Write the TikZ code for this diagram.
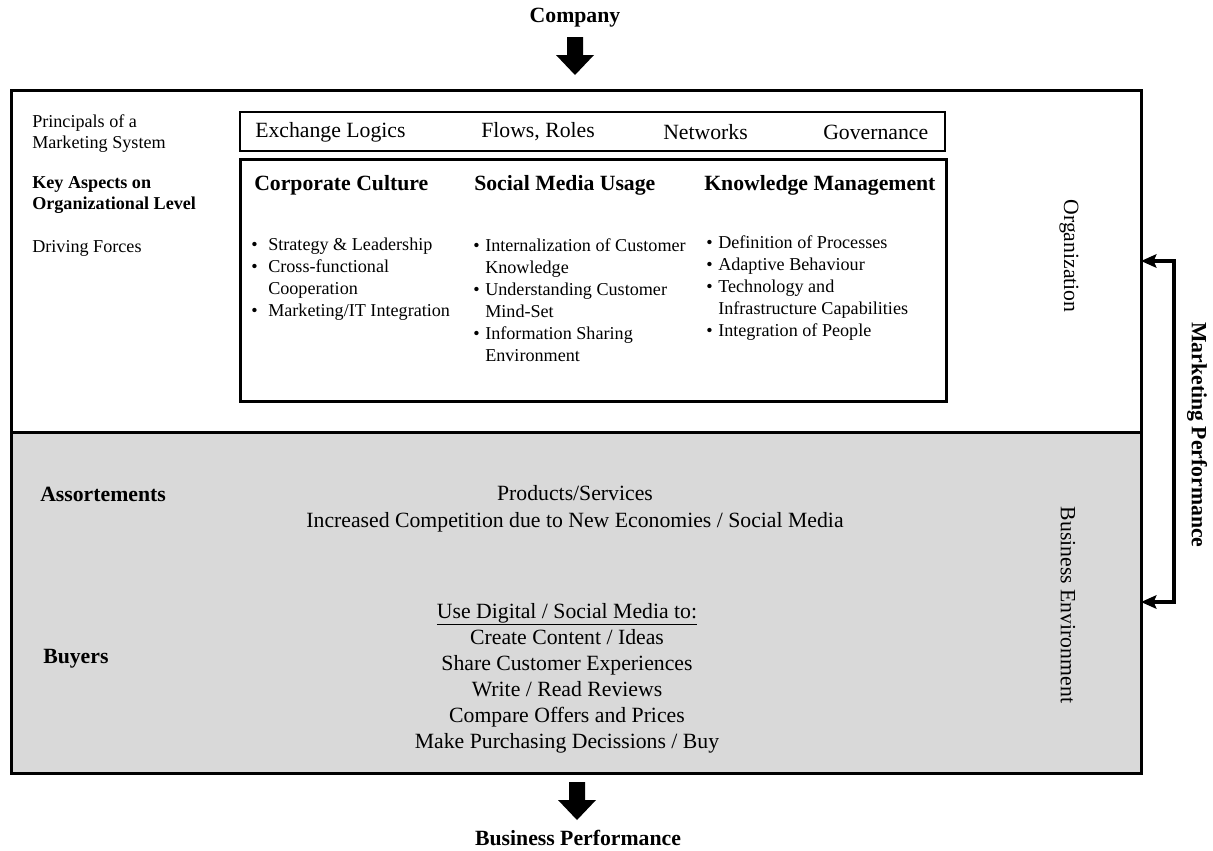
\documentclass[tikz,border=0pt]{standalone}
\usepackage{fontspec}
\setmainfont{Liberation Serif}
\usetikzlibrary{arrows.meta}
\definecolor{envgray}{HTML}{D9D9D9}
% bullet with a fixed-width box, and the matching hanging indent
\newcommand\lbul[1][9pt]{\makebox[#1][l]{\textbullet}}
\newcommand\lind[1][9pt]{\hspace*{#1}}
\begin{document}
\begin{tikzpicture}[x=0.75pt,y=-0.75pt,
  big/.style={font=\fontsize{16.3}{19.5}\selectfont, inner sep=0pt},
  bigb/.style={font=\fontsize{16.3}{19.5}\selectfont\bfseries, inner sep=0pt},
  small/.style={font=\fontsize{13.6}{15.75}\selectfont, inner sep=0pt, align=left},
  smallb/.style={font=\fontsize{13.6}{15.75}\selectfont\bfseries, inner sep=0pt, align=left},
  bullets/.style={font=\fontsize{13.6}{16.5}\selectfont, inner sep=0pt, align=left, anchor=north west},
  frame/.style={line width=2.25pt},
  thinframe/.style={line width=1.3pt},
  blockarrow/.pic={\fill (-8,0) -- (8,0) -- (8,18) -- (19,18) -- (0,38) -- (-19,18) -- (-8,18) -- cycle;},
  perfarrow/.style={line width=3pt, line join=miter,
    {Stealth[length=11.5pt,width=10pt,inset=2pt]}-{Stealth[length=11.5pt,width=10pt,inset=2pt]}}
]
\useasboundingbox (0,0) rectangle (1213,850);

% outer frame: organization (top) and business environment (shaded, bottom)
\coordinate (outerNW) at (11,90);
\coordinate (outerSE) at (1141,773);
\coordinate (splitW) at (11,432);
\coordinate (splitE) at (1141,432);
\fill[envgray] (splitW) rectangle (outerSE);
\draw[frame] (outerNW) rectangle (outerSE);
\draw[frame] (splitW) -- (splitE);

% company input and business performance output
\node[bigb] (company) at (575,18) {Company};
\pic at (575,37) {blockarrow};
\pic at (577,782) {blockarrow};
\node[bigb] (bizperf) at (578,838) {Business Performance};

% left-hand row labels
\node[small, anchor=west] (principals) at (32,134) {Principals of a\\Marketing System};
\node[smallb, anchor=west] (keyaspects) at (32,195) {Key Aspects on\\Organizational Level};
\node[small, anchor=west] (driving) at (32,248) {Driving Forces};

% principles of a marketing system
\draw[thinframe] (240,112) rectangle (945,151);
\node[big, anchor=west] (exchange) at (255,132) {Exchange Logics};
\node[big, anchor=west] (flows) at (481,132) {Flows, Roles};
\node[big, anchor=west] (networks) at (663,132) {Networks};
\node[big, anchor=west] (governance) at (823,132) {Governance};

% key aspects and their driving forces
\draw[frame] (240,159) rectangle (946,401);
\node[bigb, anchor=west] (culture) at (254,185) {Corporate Culture};
\node[bigb, anchor=west] (social) at (474,185) {Social Media Usage};
\node[bigb, anchor=west] (knowledge) at (704,185) {Knowledge Management};

\node[bullets] (cultureL) at (251,238) {%
  \lbul[12.75pt]Strategy \& Leadership\\
  \lbul[12.75pt]Cross-functional\\
  \lind[12.75pt]Cooperation\\
  \lbul[12.75pt]Marketing/IT Integration};
\node[bullets] (socialL) at (473,238) {%
  \lbul Internalization of Customer\\
  \lind Knowledge\\
  \lbul Understanding Customer\\
  \lind Mind-Set\\
  \lbul Information Sharing\\
  \lind Environment};
\node[bullets] (knowledgeL) at (706,235) {%
  \lbul Definition of Processes\\
  \lbul Adaptive Behaviour\\
  \lbul Technology and\\
  \lind Infrastructure Capabilities\\
  \lbul Integration of People};

% side labels of the two levels
\node[big, rotate=-90] (orgL) at (1069,256) {Organization};
\node[big, rotate=-90] (envL) at (1068,605) {Business Environment};

% business environment content
\node[bigb, anchor=west] (assortL) at (40,494) {Assortements};
\node[bigb, anchor=west] (buyersL) at (43,659) {Buyers};
\node[big, align=center, font=\fontsize{16.3}{20.25}\selectfont] (assortT) at (575,509) {%
  Products/Services\\
  Increased Competition due to New Economies / Social Media};
\node[big, align=center] (buyersT) at (567,678) {%
  \underline{Use Digital / Social Media to:}\\
  Create Content / Ideas\\
  Share Customer Experiences\\
  Write / Read Reviews\\
  Compare Offers and Prices\\
  Make Purchasing Decissions / Buy};

% marketing performance feedback loop
\coordinate (mpTop) at (1141,261);
\coordinate (mpTurn) at (1174,261);
\coordinate (mpBot) at (1141,602);
\draw[perfarrow] (mpTop) -- (mpTurn) |- (mpBot);
\node[bigb, rotate=-90] (mpL) at (1197,435) {Marketing Performance};
\end{tikzpicture}
\end{document}
